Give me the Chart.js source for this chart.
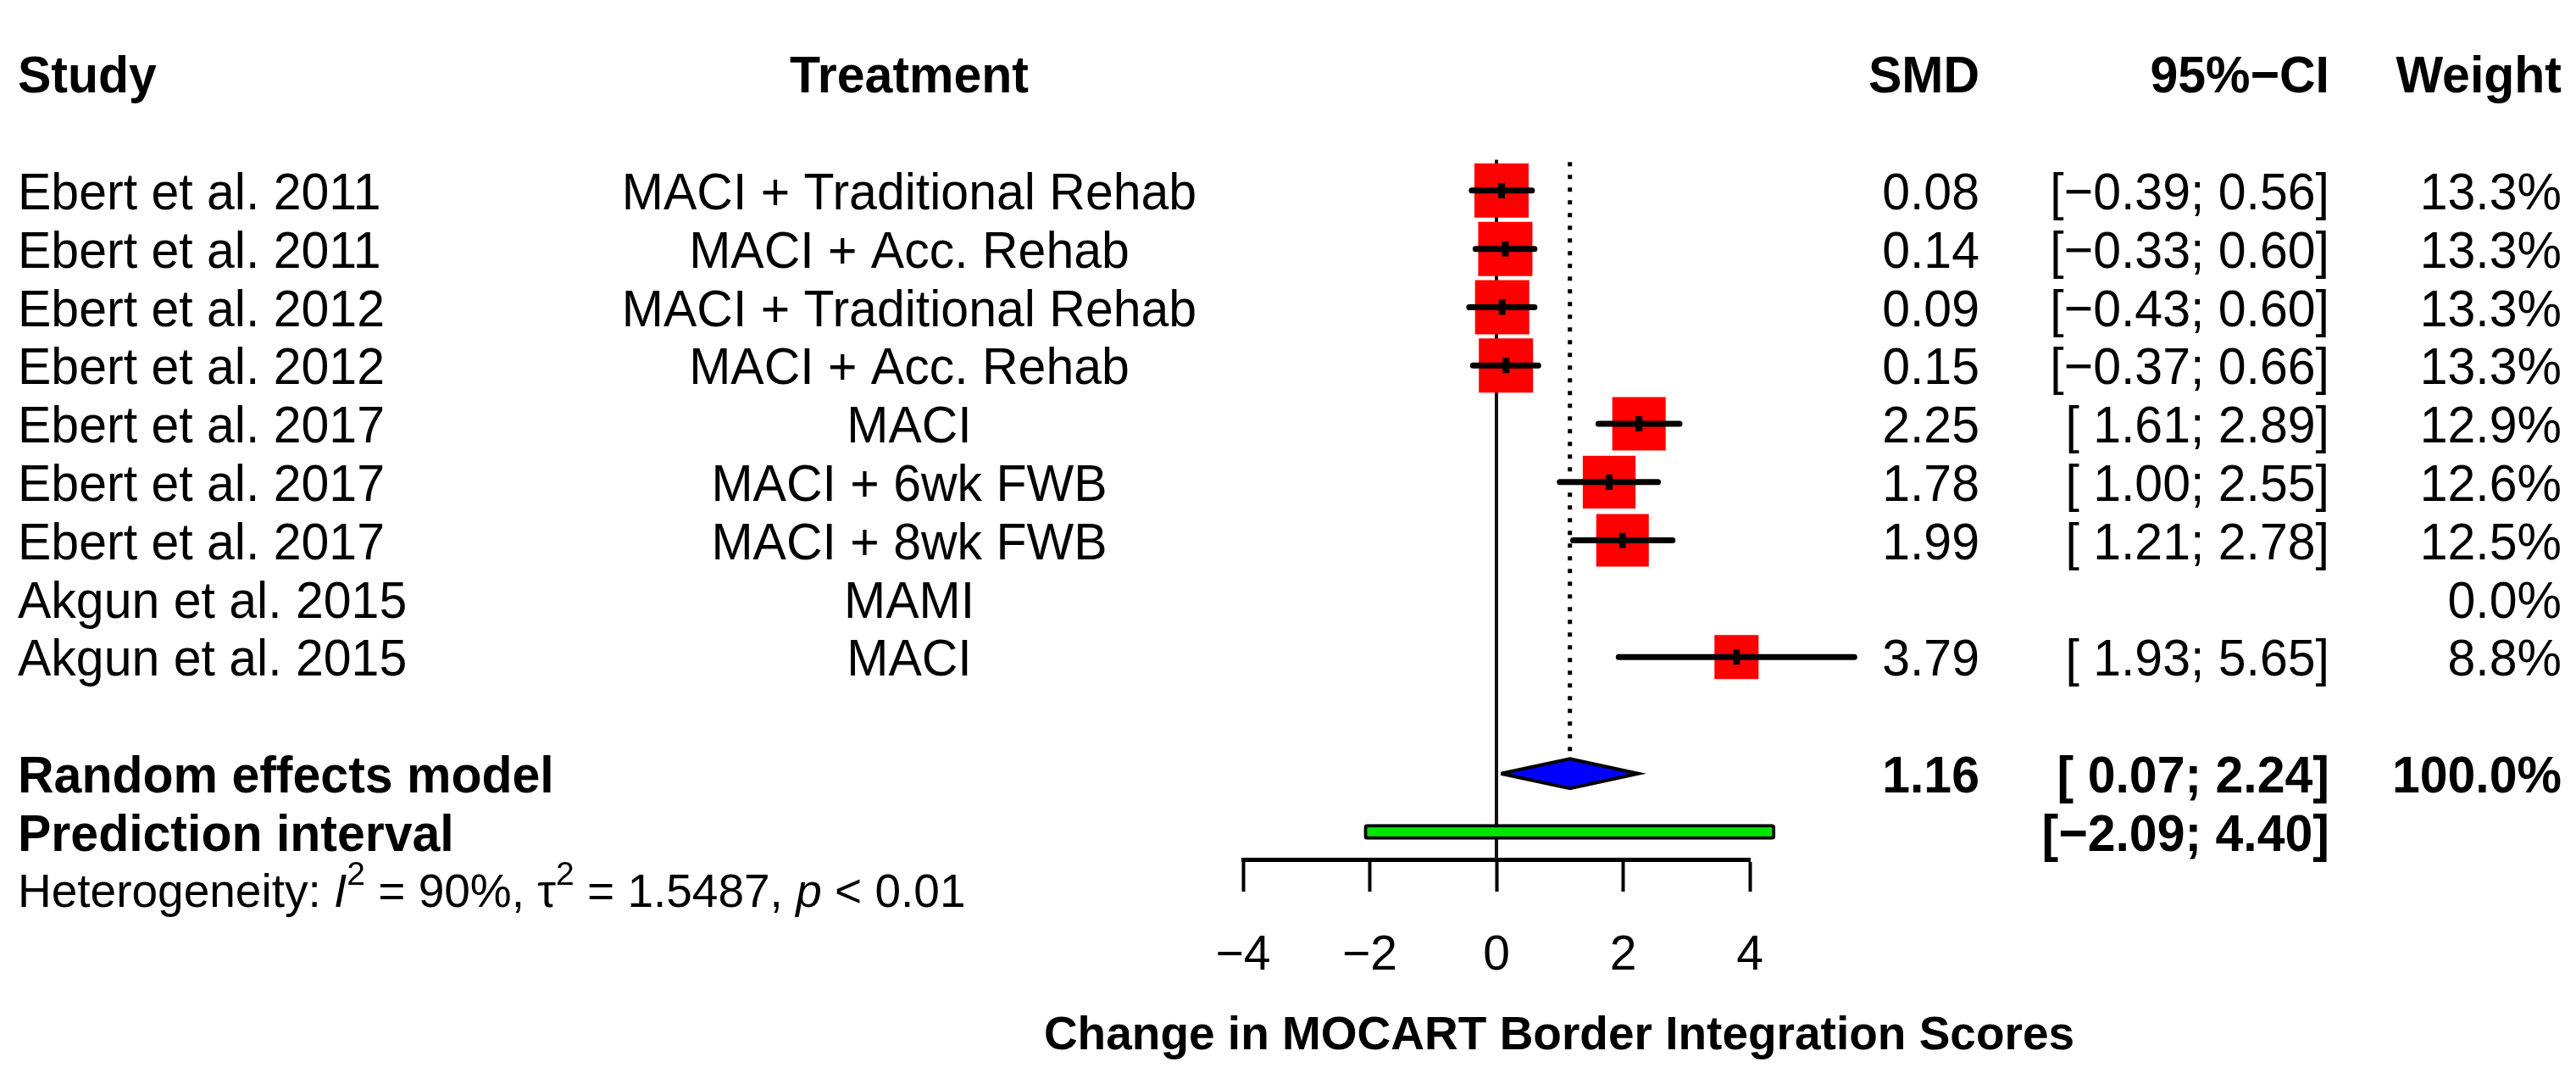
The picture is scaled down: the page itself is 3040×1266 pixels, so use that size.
<!DOCTYPE html>
<html>
<head>
<meta charset="utf-8">
<script src="https://cdn.jsdelivr.net/npm/chart.js@4.4.1/dist/chart.umd.min.js"></script>
<style>
  html, body { margin: 0; padding: 0; background: #fff; }
</style>
</head>
<body>
<canvas id="forest" width="3040" height="1266"></canvas>
<script>
// --- data ---
const studies = ['Ebert et al. 2011', 'Ebert et al. 2011', 'Ebert et al. 2012', 'Ebert et al. 2012',
                 'Ebert et al. 2017', 'Ebert et al. 2017', 'Ebert et al. 2017', 'Akgun et al. 2015', 'Akgun et al. 2015'];
const treatments = ['MACI + Traditional Rehab', 'MACI + Acc. Rehab', 'MACI + Traditional Rehab', 'MACI + Acc. Rehab',
                    'MACI', 'MACI + 6wk FWB', 'MACI + 8wk FWB', 'MAMI', 'MACI'];
const smd    = [0.08, 0.14, 0.09, 0.15, 2.25, 1.78, 1.99, null, 3.79];
const ciLow  = [-0.39, -0.33, -0.43, -0.37, 1.61, 1.00, 1.21, null, 1.93];
const ciHigh = [0.56, 0.60, 0.60, 0.66, 2.89, 2.55, 2.78, null, 5.65];
const weights = [13.3, 13.3, 13.3, 13.3, 12.9, 12.6, 12.5, 0.0, 8.8];

const pooledSmd = 1.16;
const pooledCi = [0.07, 2.24];
const predictionCi = [-2.09, 4.40];
const heterogeneity = ['90%', '1.5487', '< 0.01']; // I^2, tau^2, p

const xTicks = [-4, -2, 0, 2, 4];
const xLabel = 'Change in MOCART Border Integration Scores';

// --- layout (pixels / row units) ---
const FONT = '"Liberation Sans", Arial, sans-serif';
const X_LEFT = 1467, X_RIGHT = 2065;     // where -4 and 4 sit
const AXIS_H = 252;                      // height of the x axis box
const Y_MIN = -2.611, Y_MAX = 11.472;    // row units, 0 = first study
const HEADER_ROW = -2, SUM_ROW = 10, PRED_ROW = 11, HET_ROW = 12;
const SQUARE_MAX = 64;                   // side of the biggest box
const COL_STUDY = 21, COL_TREAT = 1073, COL_SMD = 2336, COL_CI = 2749, COL_W = 3023;
const TXT = 59, STRETCH = 1.05;          // row text size, vertical stretch of the glyphs

const maxW = Math.max(...weights);
const boxSide = w => SQUARE_MAX * Math.sqrt(w / maxW);
const minus = s => s.replace('-', '\u2212');

// 그림용 포인트 만들기
const squarePts = [];
const estPts = [];
const ciPts = [];
smd.forEach((v, i) => {
    if (v === null) return; // 추정치 없는 연구는 패스
    squarePts.push({x: v, y: i, w: weights[i]});
    estPts.push({x: v, y: i});
    ciPts.push({x: ciLow[i], y: i}, {x: ciHigh[i], y: i}, {x: ciHigh[i], y: null}); // null 로 선 끊기
});

const DIAMOND_H = 0.255;
const diamondPts = [
    {x: pooledCi[0], y: SUM_ROW}, {x: pooledSmd, y: SUM_ROW - DIAMOND_H},
    {x: pooledCi[1], y: SUM_ROW}, {x: pooledSmd, y: SUM_ROW + DIAMOND_H},
    {x: pooledCi[0], y: SUM_ROW}
];

const fmt = v => minus(v.toFixed(2));
const ciText = (lo, hi) => '[' + (lo < 0 ? '' : ' ') + fmt(lo) + '; ' + fmt(hi) + ']';

// --- text columns drawn on the canvas ---
const textPlugin = {
    id: 'forestText',
    afterDraw(chart) {
        const ctx = chart.ctx;
        const yScale = chart.scales.y;
        const put = (txt, x, row, align, weight) => {
            ctx.save();
            ctx.font = `${weight || 'normal'} ${TXT}px ${FONT}`;
            ctx.textAlign = align;
            ctx.textBaseline = 'alphabetic';
            ctx.translate(x, yScale.getPixelForValue(row) + TXT * 0.358 * STRETCH);
            ctx.scale(1, STRETCH);
            ctx.fillText(txt, 0, 0);
            ctx.restore();
        };
        ctx.save();
        ctx.fillStyle = '#000';

        // header
        put('Study', COL_STUDY, HEADER_ROW, 'left', 'bold');
        put('Treatment', COL_TREAT, HEADER_ROW, 'center', 'bold');
        put('SMD', COL_SMD, HEADER_ROW, 'right', 'bold');
        put('95%\u2212CI', COL_CI, HEADER_ROW, 'right', 'bold');
        put('Weight', COL_W, HEADER_ROW, 'right', 'bold');

        // studies
        studies.forEach((s, i) => {
            put(s, COL_STUDY, i, 'left');
            put(treatments[i], COL_TREAT, i, 'center');
            if (smd[i] !== null) {
                put(fmt(smd[i]), COL_SMD, i, 'right');
                put(ciText(ciLow[i], ciHigh[i]), COL_CI, i, 'right');
            }
            put(weights[i].toFixed(1) + '%', COL_W, i, 'right');
        });

        // pooled rows
        put('Random effects model', COL_STUDY, SUM_ROW, 'left', 'bold');
        put(fmt(pooledSmd), COL_SMD, SUM_ROW, 'right', 'bold');
        put(ciText(pooledCi[0], pooledCi[1]), COL_CI, SUM_ROW, 'right', 'bold');
        put('100.0%', COL_W, SUM_ROW, 'right', 'bold');
        put('Prediction interval', COL_STUDY, PRED_ROW, 'left', 'bold');
        put(ciText(predictionCi[0], predictionCi[1]), COL_CI, PRED_ROW, 'right', 'bold');

        // heterogeneity line with italics and superscripts
        const hs = 55;
        const base = yScale.getPixelForValue(HET_ROW) + hs * 0.358;
        const runs = [
            {t: 'Heterogeneity: '}, {t: 'I', st: 'italic'}, {t: '2', sup: true},
            {t: ' = ' + heterogeneity[0] + ', \u03c4'}, {t: '2', sup: true},
            {t: ' = ' + heterogeneity[1] + ', '}, {t: 'p', st: 'italic'},
            {t: ' ' + heterogeneity[2]}
        ];
        let x = COL_STUDY;
        ctx.textAlign = 'left';
        ctx.textBaseline = 'alphabetic';
        runs.forEach(r => {
            const size = r.sup ? Math.round(hs * 0.7) : hs;
            ctx.font = `${r.st || 'normal'} ${size}px ${FONT}`;
            ctx.fillText(r.t, x, r.sup ? base - hs * 0.47 : base);
            x += ctx.measureText(r.t).width;
        });

        // x axis title
        ctx.font = `bold 55px ${FONT}`;
        ctx.textAlign = 'center';
        ctx.fillText(xLabel, 1840, 1238);
        ctx.restore();
    }
};

new Chart(document.getElementById('forest'), {
    type: 'scatter',
    data: {
        datasets: [
            { // 예측구간 막대 (가로 floating bar)
                type: 'bar', indexAxis: 'y',
                data: [{x: predictionCi, y: PRED_ROW}],
                barThickness: 18, borderWidth: 4, borderSkipped: false, borderRadius: 4,
                backgroundColor: '#00E400', borderColor: '#000', order: 1, clip: false
            },
            { // 합친 효과 다이아몬드
                data: diamondPts, showLine: true, fill: 'shape', tension: 0,
                backgroundColor: '#0000FF', borderColor: '#000', borderWidth: 4,
                borderJoinStyle: 'miter', pointRadius: 0, order: 2, clip: false
            },
            { // 점추정 표시
                data: estPts, pointStyle: 'line', pointRotation: 90, pointRadius: 9,
                borderColor: '#000', borderWidth: 8, order: 3, clip: false
            },
            { // 신뢰구간 선
                data: ciPts, showLine: true, spanGaps: false, borderColor: '#000',
                borderWidth: 7, borderCapStyle: 'round', pointRadius: 0, order: 4, clip: false
            },
            { // 가중치 상자
                data: squarePts, pointStyle: 'rect',
                pointRadius: c => c.raw ? boxSide(c.raw.w) / Math.SQRT2 : 0,
                backgroundColor: '#FF0000', borderWidth: 0, order: 5, clip: false
            },
            { // 합친 효과 점선
                data: [{x: pooledSmd, y: -0.49}, {x: pooledSmd, y: SUM_ROW - DIAMOND_H - 0.08}],
                showLine: true, borderColor: '#000', borderWidth: 5, borderDash: [5, 10],
                pointRadius: 0, order: 6, clip: false
            },
            { // 0 기준선
                data: [{x: 0, y: -0.53}, {x: 0, y: Y_MAX}],
                showLine: true, borderColor: '#111', borderWidth: 4,
                pointRadius: 0, order: 7, clip: false
            }
        ]
    },
    options: {
        responsive: false,
        animation: false,
        events: [],
        layout: { padding: { left: X_LEFT, right: 3040 - X_RIGHT, top: 0, bottom: 0 } },
        plugins: { legend: { display: false }, tooltip: { enabled: false } },
        scales: {
            x: {
                type: 'linear', position: 'bottom',
                min: xTicks[0], max: xTicks[xTicks.length - 1],
                afterFit: s => { s.height = AXIS_H; },
                afterBuildTicks: s => { s.ticks = xTicks.map(v => ({value: v})); },
                border: { display: true, color: '#000', width: 5 },
                grid: { drawOnChartArea: false, drawTicks: true, tickLength: 38, tickWidth: 4, tickColor: '#000', offset: false },
                ticks: { color: '#000', font: { family: FONT, size: 57 }, padding: 42, maxRotation: 0,
                         callback: v => minus(String(v)) }
            },
            y: { type: 'linear', display: false, reverse: true, min: Y_MIN, max: Y_MAX,
                 offset: false, grid: { offset: false } }
        }
    },
    plugins: [textPlugin]
});
</script>
</body>
</html>
